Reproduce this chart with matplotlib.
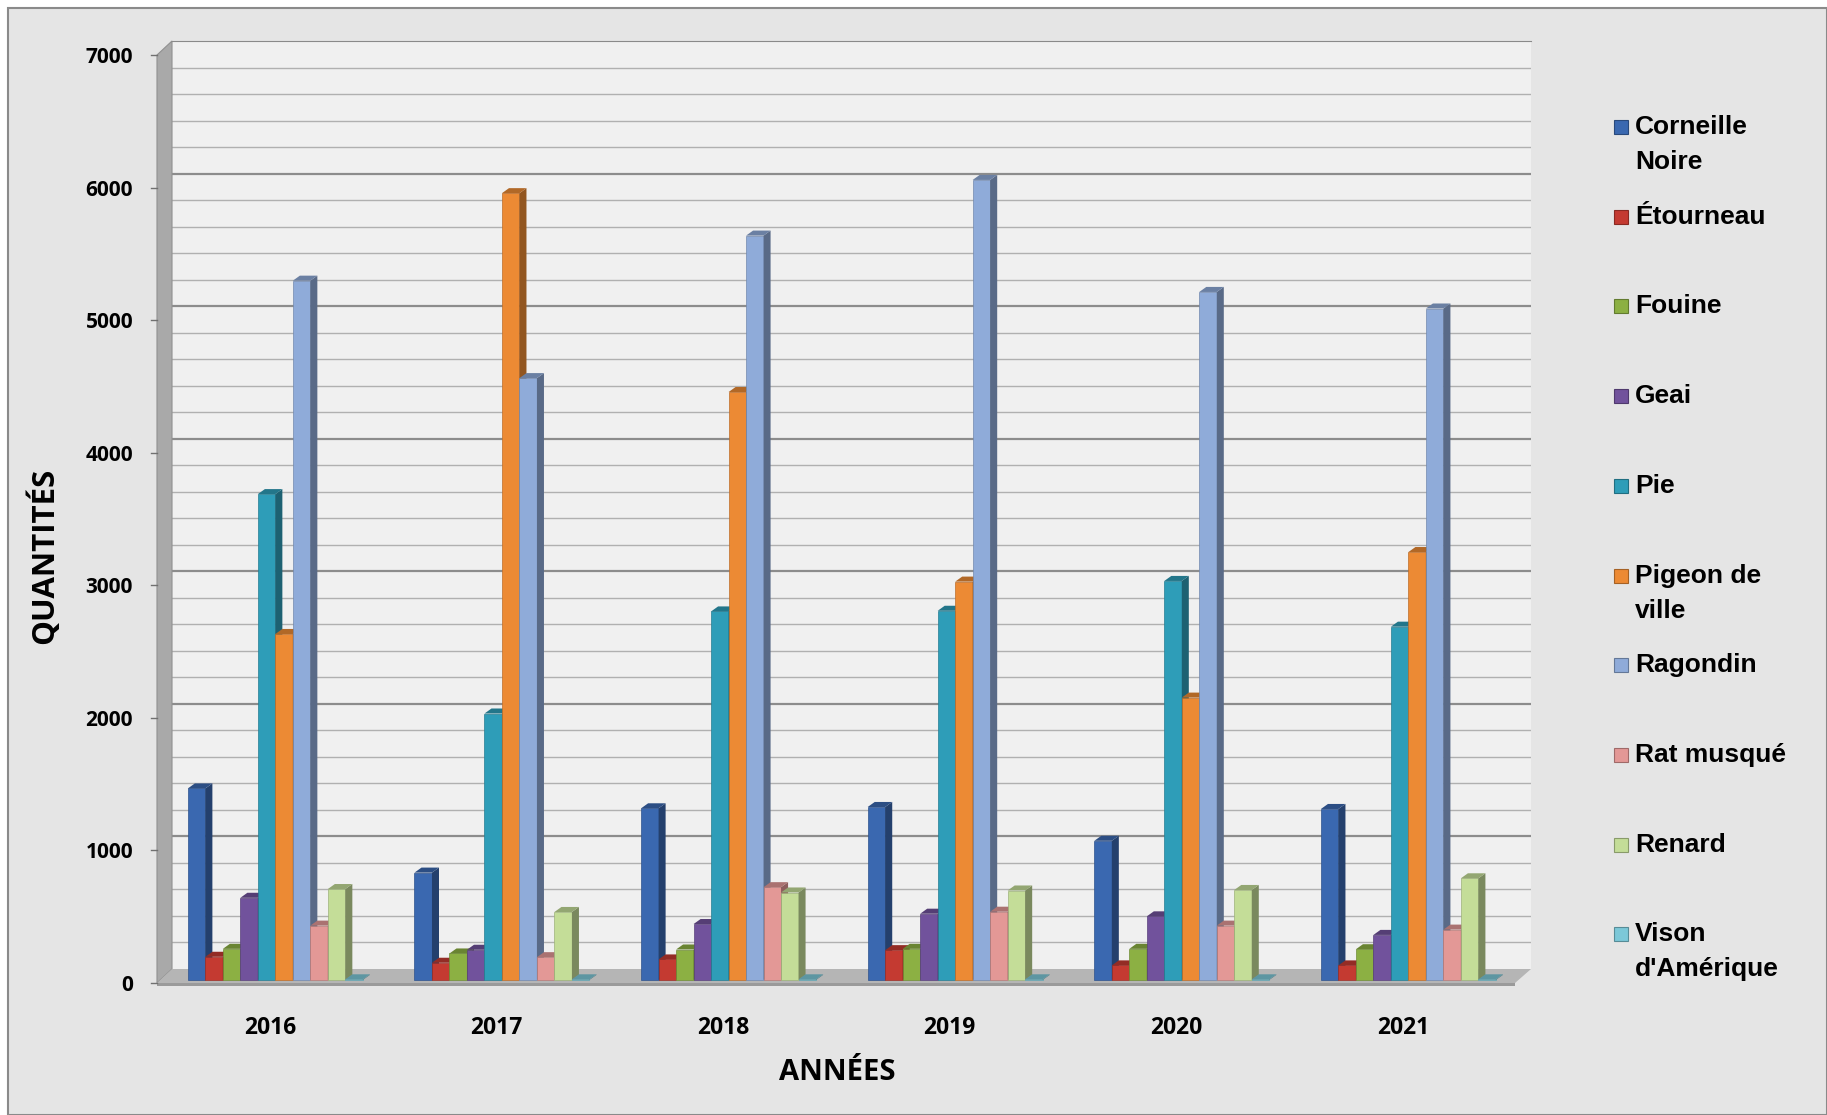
import numpy as np
import matplotlib.pyplot as plt
from matplotlib.patches import Polygon, Rectangle
from matplotlib.transforms import ScaledTranslation, blended_transform_factory
from matplotlib.colors import to_rgb

# Données
years = ['2016', '2017', '2018', '2019', '2020', '2021']
species = ['Corneille\nNoire', 'Étourneau', 'Fouine', 'Geai', 'Pie',
           'Pigeon de\nville', 'Ragondin', 'Rat musqué', 'Renard',
           "Vison\nd'Amérique"]
corneille = [1445, 810, 1295, 1305, 1050, 1290]
etourneau = [175, 130, 155, 225, 110, 110]
fouine = [235, 200, 230, 235, 235, 232]
geai = [620, 228, 422, 500, 480, 340]
pie = [3665, 2010, 2780, 2785, 3010, 2665]
pigeon = [2610, 5935, 4435, 3005, 2130, 3228]
ragondin = [5275, 4540, 5615, 6035, 5190, 5065]
rat_musque = [410, 172, 700, 515, 410, 380]
renard = [686, 513, 660, 675, 679, 767]
vison = [5, 5, 5, 5, 5, 5]
series = [corneille, etourneau, fouine, geai, pie, pigeon, ragondin,
          rat_musque, renard, vison]

colors = ['#3a68b0', '#c43a31', '#8cb043', '#71529c', '#2e9db8',
          '#ec8a34', '#8fabd9', '#e39896', '#c4dd98', '#7cc8d8']

W_PX, H_PX = 1827, 1115


def fp(x, y):
    # pixel (haut-gauche) -> fraction de figure
    return (x / W_PX, 1 - y / H_PX)


def shade(c, f):
    r, g, b = to_rgb(c)
    return (r * f, g * f, b * f)


fig = plt.figure(figsize=(W_PX / 100, H_PX / 100), dpi=100)
fig.patch.set_facecolor('white')
fig.patches.append(Rectangle(fp(8, 1115), (W_PX - 8) / W_PX, (H_PX - 8) / H_PX,
                             transform=fig.transFigure, facecolor='#e5e5e5',
                             edgecolor='#8a8a8a', linewidth=1.5, zorder=-10))

# mur du fond
ax = fig.add_axes([172 / W_PX, 146 / H_PX, 1359 / W_PX, 928 / H_PX])
ax.set_facecolor('#f0f0f0')
ax.set_xlim(-0.432, 5.565)
ax.set_ylim(0, 7000)
for s in ['left', 'right', 'bottom']:
    ax.spines[s].set_visible(False)
ax.spines['top'].set_color('#8a8a8a')

for v in range(200, 7000, 200):
    if v % 1000 == 0:
        ax.axhline(v, color='#8c8c8c', lw=1.6, zorder=1)
    else:
        ax.axhline(v, color='#b0b0b0', lw=1.0, zorder=1)

# mur de gauche et sol
ax.add_patch(Polygon([fp(157, 55), fp(172, 41), fp(172, 969), fp(157, 983)],
                     transform=fig.transFigure, clip_on=False,
                     facecolor='#a9a9a9', edgecolor='#909090', lw=0.8, zorder=2))
ax.add_patch(Polygon([fp(157, 983), fp(172, 969), fp(1531, 969), fp(1515, 983)],
                     transform=fig.transFigure, clip_on=False,
                     facecolor='#b5b5b5', edgecolor='none', zorder=2))
ax.add_patch(Polygon([fp(157, 983), fp(1515, 983), fp(1515, 986), fp(157, 986)],
                     transform=fig.transFigure, clip_on=False,
                     facecolor='#9a9a9a', edgecolor='none', zorder=2))

# barres pseudo-3D
BW = 0.0772
DX = 0.031
DY = 38
FLOOR = -83
OFF = 0.024
x = np.arange(len(years))
for i, (vals, c) in enumerate(zip(series, colors)):
    for g, v in zip(x, vals):
        left = g + OFF + (i - 5) * BW
        z = 3 + i
        top = FLOOR + v
        ax.add_patch(Rectangle((left, FLOOR), BW, v, facecolor=c,
                               edgecolor=shade(c, 0.8), lw=0.5,
                               clip_on=False, zorder=z))
        ax.add_patch(Polygon([(left + BW, FLOOR), (left + BW + DX, FLOOR + DY),
                              (left + BW + DX, top + DY), (left + BW, top)],
                             facecolor=shade(c, 0.62), edgecolor='none',
                             clip_on=False, zorder=z))
        ax.add_patch(Polygon([(left, top), (left + DX, top + DY),
                              (left + BW + DX, top + DY), (left + BW, top)],
                             facecolor=shade(c, 0.75), edgecolor='none',
                             clip_on=False, zorder=z))

# axe des années
ax.set_xticks(x)
ax.set_xticklabels(years, fontsize=16.5, fontweight='bold', family='Open Sans')
ax.tick_params(axis='x', length=0, pad=34)

# axe des quantités (sur l'arête avant)
down = ScaledTranslation(0, -0.14, fig.dpi_scale_trans)
ax.set_yticks(range(0, 7001, 1000))
ax.set_yticklabels([str(v) for v in range(0, 7001, 1000)], fontsize=15,
                   fontweight='bold', family='Open Sans')
ax.tick_params(axis='y', length=0, pad=28)
for lab in ax.get_yticklabels():
    lab.set_transform(lab.get_transform() + down)
tr = blended_transform_factory(ax.transAxes, ax.transData) + down
for v in range(0, 7001, 1000):
    ax.plot([-0.0155, -0.011], [v, v], color='#707070', lw=1, transform=tr,
            clip_on=False, zorder=3)

fig.text(*fp(43, 556), 'QUANTITÉS', rotation=90, ha='center', va='center',
         fontsize=22.5, fontweight='bold', family='Open Sans')
fig.text(*fp(837, 1072), 'ANNÉES', ha='center', va='center',
         fontsize=21, fontweight='bold', family='Open Sans')

# légende
for i, (name, c) in enumerate(zip(species, colors)):
    yc = 127 + i * 89.7
    fig.patches.append(Rectangle(fp(1614, yc + 7), 14 / W_PX, 14 / H_PX,
                                 transform=fig.transFigure, facecolor=c,
                                 edgecolor=shade(c, 0.7), lw=0.8, zorder=3))
    for k, line in enumerate(name.split('\n')):
        fig.text(*fp(1635, yc + k * 35), line, ha='left', va='center',
                 fontsize=19, fontweight='bold', family='Liberation Sans')

fig.savefig('out.png', dpi=100)
